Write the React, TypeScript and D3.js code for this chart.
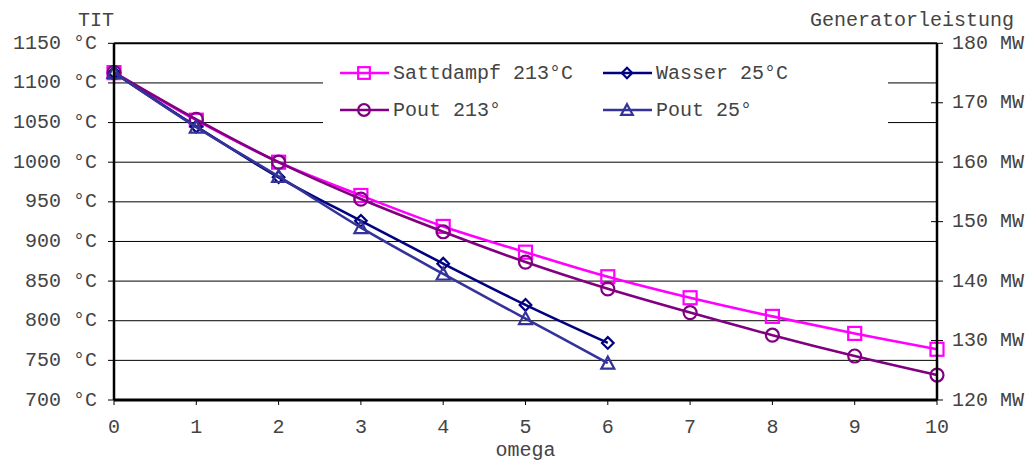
import React from "react";
import * as d3 from "d3";

const omega = [0, 1, 2, 3, 4, 5, 6, 7, 8, 9, 10];
const titSattdampf = [1113, 1053, 1000, 958, 919, 886.5, 855.5, 829, 805.5, 784, 764];
const titWasser = [1113, 1045, 981, 926, 872, 820, 772];
const poutSattdampf = [175.1, 167.2, 160.0, 153.8, 148.3, 143.2, 138.7, 134.7, 130.9, 127.4, 124.2];
const poutWasser = [175.1, 165.9, 157.6, 149.0, 141.2, 133.7, 126.2];

const leftTicks = [700, 750, 800, 850, 900, 950, 1000, 1050, 1100, 1150];
const rightTicks = [120, 130, 140, 150, 160, 170, 180];
const crossingRightTicks = [130, 150, 170];

const W = 1029;
const H = 462;
const FONT = "'Liberation Mono', 'Courier New', monospace";
const TEXT = "#444";

type Marker = "square" | "diamond" | "circle" | "triangle";

interface Series {
  name: string;
  values: number[];
  axis: "left" | "right";
  color: string;
  marker: Marker;
}

const series: Series[] = [
  { name: "Sattdampf 213°C", values: titSattdampf, axis: "left", color: "#FF00FF", marker: "square" },
  { name: "Wasser 25°C", values: titWasser, axis: "left", color: "#000080", marker: "diamond" },
  { name: "Pout 213°", values: poutSattdampf, axis: "right", color: "#800080", marker: "circle" },
  { name: "Pout 25°", values: poutWasser, axis: "right", color: "#333399", marker: "triangle" },
];

function MarkerShape({ kind, x, y, color, s = 1 }: { kind: Marker; x: number; y: number; color: string; s?: number }) {
  const common = { fill: "none", stroke: color, strokeWidth: 2.2 };
  if (kind === "square") {
    const h = 6.5 * s;
    return <rect x={x - h} y={y - h} width={2 * h} height={2 * h} {...common} />;
  }
  if (kind === "circle") {
    return <circle cx={x} cy={y} r={6.5 * s} {...common} />;
  }
  if (kind === "diamond") {
    const h = 5.8 * s;
    return <path d={`M${x},${y - h}L${x + h},${y}L${x},${y + h}L${x - h},${y}Z`} {...common} />;
  }
  const h = 6.5 * s;
  return <path d={`M${x},${y - h}L${x + h},${y + h * 0.85}L${x - h},${y + h * 0.85}Z`} {...common} />;
}

export default function App() {
  const left = 114;
  const right = 937;
  const top = 43.3;
  const bottom = 400;

  const x = d3.scaleLinear().domain([0, 10]).range([left, right]);
  const yL = d3.scaleLinear().domain([700, 1150]).range([bottom, top]);
  const yR = d3.scaleLinear().domain([120, 180]).range([bottom, top]);

  const yOf = (s: Series, v: number) => (s.axis === "left" ? yL(v) : yR(v));

  const lineGen = (s: Series) =>
    d3
      .line<number>()
      .x((_, i) => x(omega[i]))
      .y((v) => yOf(s, v))
      .curve(d3.curveCatmullRom.alpha(0.5))(s.values) || "";

  const legend = { x: 323, y: 56, w: 565, h: 72 };
  const legendItems = [
    { s: series[0], lx: 340, ty: 73 },
    { s: series[1], lx: 603, ty: 73 },
    { s: series[2], lx: 340, ty: 110 },
    { s: series[3], lx: 603, ty: 110 },
  ];

  return (
    <svg
      width={W}
      height={H}
      style={{ position: "absolute", left: 0, top: 0, background: "#fff" }}
      fontFamily={FONT}
    >
      <rect x={0} y={0} width={W} height={H} fill="#fff" />

      {/* horizontal gridlines */}
      {leftTicks
        .filter((t) => t !== 700 && t !== 1150)
        .map((t) => (
          <line key={t} x1={left} x2={right} y1={yL(t)} y2={yL(t)} stroke="#000" strokeWidth={1} />
        ))}

      {/* legend */}
      <rect x={legend.x} y={legend.y} width={legend.w} height={legend.h} fill="#fff" />
      {legendItems.map((it) => (
        <g key={it.s.name}>
          <line x1={it.lx} x2={it.lx + 49} y1={it.ty} y2={it.ty} stroke={it.s.color} strokeWidth={2.5} />
          <MarkerShape kind={it.s.marker} x={it.lx + 24} y={it.ty} color={it.s.color} s={0.9} />
          <text x={it.lx + 53} y={it.ty + 6} fontSize={20} fill={TEXT}>
            {it.s.name}
          </text>
        </g>
      ))}

      {/* series */}
      {series.map((s) => (
        <g key={s.name}>
          <path d={lineGen(s)} fill="none" stroke={s.color} strokeWidth={2.6} />
          {s.values.map((v, i) => (
            <MarkerShape key={i} kind={s.marker} x={x(omega[i])} y={yOf(s, v)} color={s.color} />
          ))}
        </g>
      ))}

      {/* frame */}
      <line x1={left} x2={right} y1={top} y2={top} stroke="#000" strokeWidth={2} />
      <line x1={left} x2={left} y1={top} y2={bottom} stroke="#000" strokeWidth={2.5} />
      <line x1={right} x2={right} y1={top} y2={bottom} stroke="#000" strokeWidth={2.5} />
      <line x1={left} x2={right} y1={bottom} y2={bottom} stroke="#000" strokeWidth={3} />

      {/* left axis */}
      {leftTicks.map((t) => (
        <g key={t}>
          <line x1={left - 6} x2={left} y1={yL(t)} y2={yL(t)} stroke="#000" strokeWidth={1} />
          <text x={97} y={yL(t) + 5.5} fontSize={20} fill={TEXT} textAnchor="end">
            {`${t} °C`}
          </text>
        </g>
      ))}
      <text x={78} y={26} fontSize={20} fill={TEXT}>
        TIT
      </text>

      {/* right axis */}
      {rightTicks.map((t) => (
        <g key={t}>
          <line
            x1={crossingRightTicks.includes(t) ? right - 6 : right}
            x2={right + 6}
            y1={yR(t)}
            y2={yR(t)}
            stroke="#000"
            strokeWidth={1}
          />
          <text x={952} y={yR(t) + 5.5} fontSize={20} fill={TEXT}>
            {`${t} MW`}
          </text>
        </g>
      ))}
      <text x={1014} y={26} fontSize={20} fill={TEXT} textAnchor="end">
        Generatorleistung
      </text>

      {/* bottom axis */}
      {omega.map((o) => (
        <g key={o}>
          <line x1={x(o)} x2={x(o)} y1={bottom} y2={bottom + 5} stroke="#000" strokeWidth={1} />
          <text x={x(o)} y={433} fontSize={20} fill={TEXT} textAnchor="middle">
            {o}
          </text>
        </g>
      ))}
      <text x={(left + right) / 2} y={456} fontSize={20} fill={TEXT} textAnchor="middle">
        omega
      </text>
    </svg>
  );
}
